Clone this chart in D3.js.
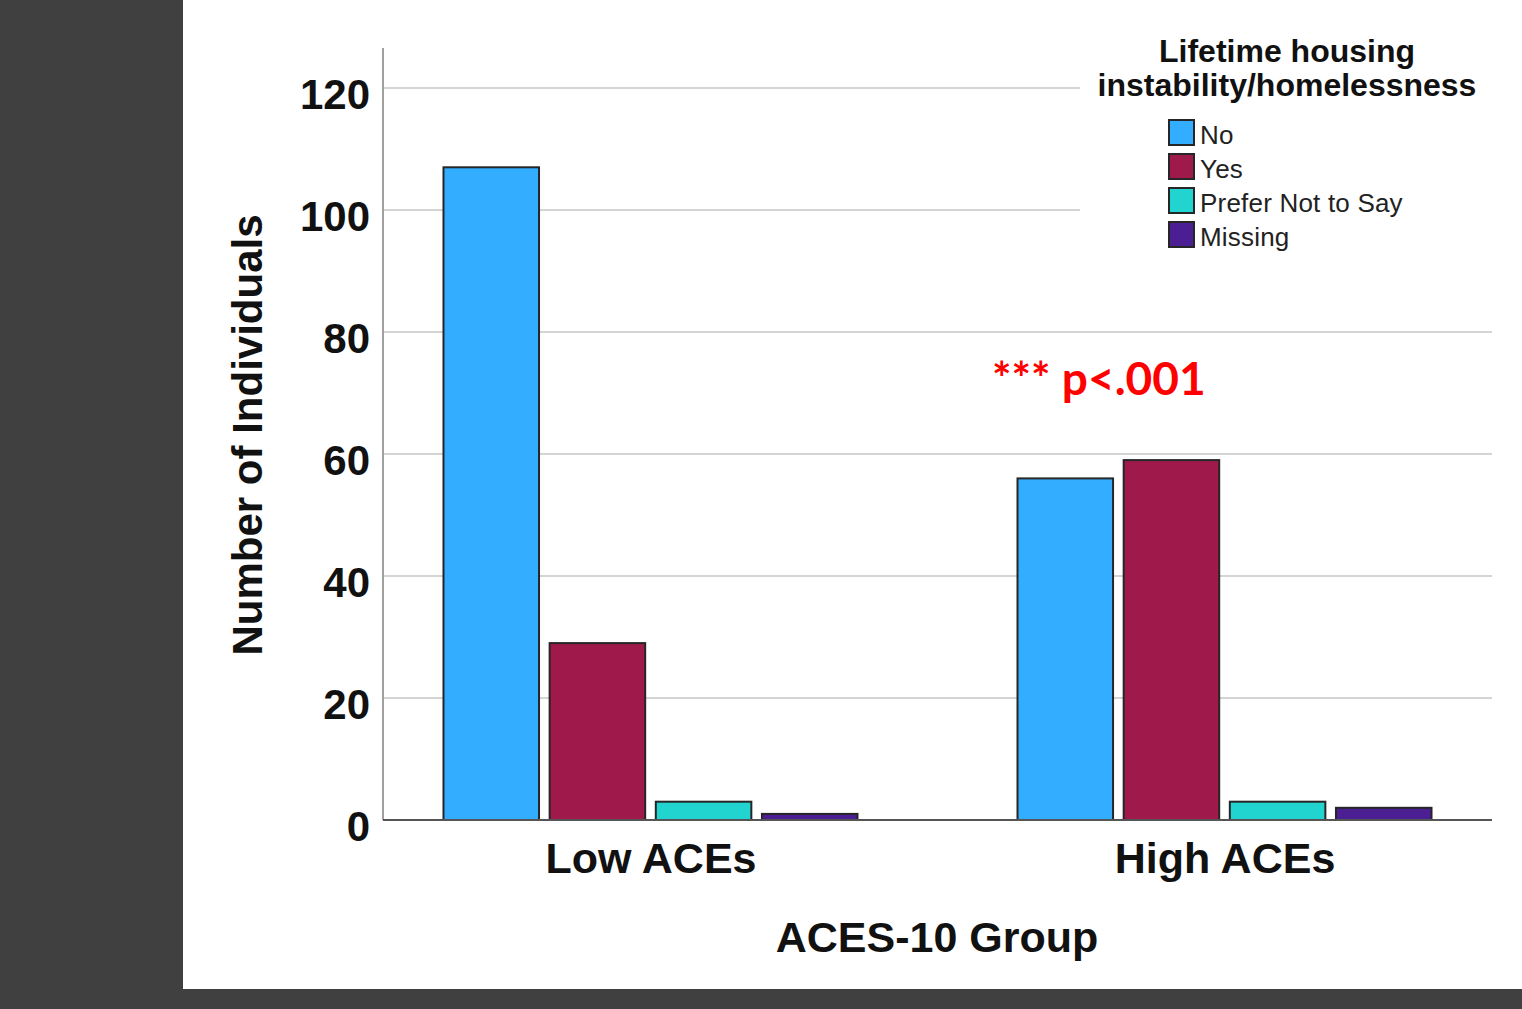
<!DOCTYPE html>
<html><head><meta charset="utf-8">
<script src="https://cdn.jsdelivr.net/npm/d3@7"></script>
<style>body{margin:0;background:#404040;overflow:hidden}svg{display:block}</style>
</head><body>
<svg id="chart" width="1522" height="1009"></svg>
<script>
const groups = ["Low ACEs", "High ACEs"];
const seriesNames = ["No", "Yes", "Prefer Not to Say", "Missing"];
const seriesColors = ["#33adff", "#a0194b", "#22d4d0", "#4b1f93"];
const lowValues = [107, 29, 3, 1];
const highValues = [56, 59, 3, 2];
const yTicks = [0, 20, 40, 60, 80, 100, 120];
const legendTitle = ["Lifetime housing", "instability/homelessness"];
const annotation = "*** p<.001";

const svg = d3.select("#chart");
svg.append("rect").attr("x",0).attr("y",0).attr("width",1522).attr("height",1009).attr("fill","#404040");
svg.append("rect").attr("x",183).attr("y",0).attr("width",1339).attr("height",989).attr("fill","#ffffff");

const y = d3.scaleLinear().domain([0,120]).range([820,88]);
const x = d3.scalePoint().domain(groups).range([383,1492]).padding(0.466);
const xi = d3.scaleBand().domain(seriesNames).range([-207,207]).paddingInner(0.1);

const FONT = "'Liberation Sans', Arial, sans-serif";

// gridlines
svg.append("g").selectAll("line").data(yTicks.filter(d=>d>0)).join("line")
  .attr("x1",383).attr("x2",1492).attr("y1",d=>y(d)).attr("y2",d=>y(d))
  .attr("stroke","#d4d4d4").attr("stroke-width",2);

// legend background box covers gridlines
svg.append("rect").attr("x",1080).attr("y",30).attr("width",442).attr("height",232).attr("fill","#fff");

// y axis
const yAxis = d3.axisLeft(y).tickValues(yTicks).tickSize(0).tickPadding(13);
const yg = svg.append("g").attr("transform","translate(383,0)").call(yAxis);
yg.select(".domain").remove();
yg.selectAll("text").attr("font-family",FONT).attr("font-weight","bold").attr("font-size",42)
  .attr("fill","#111").attr("dy","0.86em").attr("y",-16);
svg.append("line").attr("x1",383).attr("x2",383).attr("y1",48).attr("y2",820).attr("stroke","#a0a0a0").attr("stroke-width",2);

// bars
const data = [];
groups.forEach((g,gi)=>{
  const vals = gi===0 ? lowValues : highValues;
  seriesNames.forEach((s,si)=>data.push({g,s,v:vals[si],c:seriesColors[si]}));
});
svg.append("g").selectAll("rect").data(data).join("rect")
  .attr("x",d=>x(d.g)+xi(d.s)).attr("width",xi.bandwidth())
  .attr("y",d=>y(d.v)).attr("height",d=>y(0)-y(d.v))
  .attr("fill",d=>d.c).attr("stroke","#262626").attr("stroke-width",2);

// x axis
const xAxis = d3.axisBottom(x).tickSize(0).tickPadding(0);
const xg = svg.append("g").attr("transform","translate(0,820)").call(xAxis);
xg.select(".domain").remove();
xg.selectAll("text").attr("font-family",FONT).attr("font-weight","bold").attr("font-size",43)
  .attr("fill","#111").attr("dy",null).attr("y",53);
svg.append("line").attr("x1",383).attr("x2",1492).attr("y1",820).attr("y2",820).attr("stroke","#555").attr("stroke-width",2);

// axis titles
svg.append("text").attr("x",937).attr("y",952).attr("text-anchor","middle")
  .attr("font-family",FONT).attr("font-weight","bold").attr("font-size",43).attr("fill","#111")
  .text("ACES-10 Group");
svg.append("text").attr("transform","translate(262,435) rotate(-90)").attr("text-anchor","middle")
  .attr("font-family",FONT).attr("font-weight","bold").attr("font-size",42).attr("fill","#111")
  .text("Number of Individuals");

// legend
svg.append("g").selectAll("text").data(legendTitle).join("text")
  .attr("x",1287).attr("y",(d,i)=>62+i*34).attr("text-anchor","middle")
  .attr("font-family",FONT).attr("font-weight","bold").attr("font-size",32).attr("fill","#111")
  .text(d=>d);
const lg = svg.append("g").selectAll("g").data(seriesNames).join("g")
  .attr("transform",(d,i)=>`translate(1169,${120+i*34})`);
lg.append("rect").attr("width",25).attr("height",25).attr("fill",(d,i)=>seriesColors[i])
  .attr("stroke","#262626").attr("stroke-width",2);
lg.append("text").attr("x",31).attr("y",24).attr("font-family",FONT).attr("font-size",26)
  .attr("fill","#222").attr("letter-spacing",0.2).text(d=>d);

// annotation
svg.append("text").attr("x",992).attr("y",395)
  .attr("font-family","Lato, 'Open Sans', sans-serif").attr("font-weight","bold").attr("font-size",46)
  .attr("fill","#ff0000").text(annotation);
</script>
</body></html>
